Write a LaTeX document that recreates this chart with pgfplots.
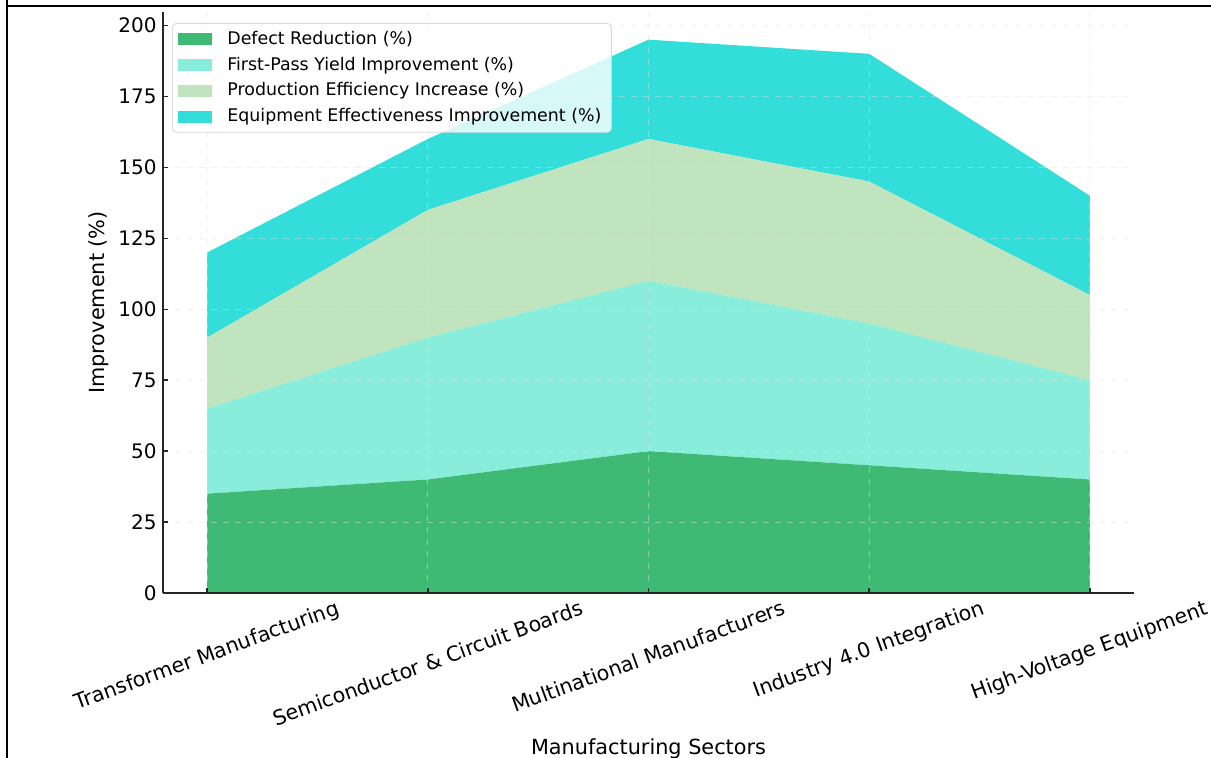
\documentclass[border=0pt]{standalone}
\usepackage{pgfplots}
\pgfplotsset{compat=1.18}
\usepackage{fontspec}
\setmainfont{DejaVu Sans}
\definecolor{cDef}{HTML}{3FBA75}
\definecolor{cFPY}{HTML}{88EDDA}
\definecolor{cProd}{HTML}{BFE4BE}
\definecolor{cEq}{HTML}{33DDD9}
\begin{document}
\begin{tikzpicture}
\useasboundingbox (0pt,0pt) rectangle (605.5pt,379pt);
\draw[line width=1.1pt] (3.5pt,379pt) -- (3.5pt,376pt) -- (605.5pt,376pt);
\draw[line width=1.1pt] (3.5pt,0pt) -- (3.5pt,376pt);
\begin{axis}[
  at={(81.5pt,82.5pt)}, anchor=south west,
  scale only axis, width=485.5pt, height=290.5pt,
  xmin=-0.2, xmax=4.2, ymin=0, ymax=204.75,
  axis x line*=bottom, axis y line*=left,
  axis line style={line width=0.8pt, black!85},
  tick align=inside, major tick length=2.5pt,
  tick style={line width=0.7pt, black!85},
  xtick={0,1,2,3,4},
  xticklabels={\rotatebox{20}{Transformer Manufacturing},\rotatebox{20}{Semiconductor \& Circuit Boards},\rotatebox{20}{Multinational Manufacturers},\rotatebox{20}{Industry 4.0 Integration},\rotatebox{20}{High-Voltage Equipment}},
  xticklabel style={anchor=north, font=\fontsize{10.3}{12}\selectfont, inner sep=1pt, yshift=-2pt},
  ytick={0,25,50,75,100,125,150,175,200},
  yticklabel style={font=\fontsize{10}{12}\selectfont, inner sep=1pt, xshift=-2pt},
  /pgf/number format/assume math mode=true,
  grid=major, grid style={dashed, black!12, line width=0.4pt, opacity=0.45},
  axis on top,
  ylabel={Improvement (\%)},
  ylabel style={font=\fontsize{10.4}{12}\selectfont, at={(axis description cs:-0.066,0.5)}, anchor=center},
  xlabel={Manufacturing Sectors},
  xlabel style={font=\fontsize{10.4}{12}\selectfont, at={(axis description cs:0.5,0)}, yshift=-78pt, anchor=center},
  stack plots=y,
  legend style={at={(axis description cs:0,1)}, anchor=north west, xshift=4.5pt, yshift=-5.5pt,
    font=\fontsize{8.7}{10}\selectfont, row sep=0.8pt, inner xsep=3pt, inner ysep=1.8pt,
    rounded corners=2pt, draw=black!15, fill=white, fill opacity=0.8, text opacity=1},
  legend cell align=left,
  legend image code/.code={\fill[#1, sharp corners, fill opacity=1] (0pt,-3pt) rectangle (17pt,3pt); \path (22.5pt,0pt);},
]
\addplot[fill=cDef, draw=none] coordinates {(0,35) (1,40) (2,50) (3,45) (4,40)} \closedcycle;
\addlegendentry{Defect Reduction (\%)}
\addplot[fill=cFPY, draw=none] coordinates {(0,30) (1,50) (2,60) (3,50) (4,35)} \closedcycle;
\addlegendentry{First-Pass Yield Improvement (\%)}
\addplot[fill=cProd, draw=none] coordinates {(0,25) (1,45) (2,50) (3,50) (4,30)} \closedcycle;
\addlegendentry{Production Efficiency Increase (\%)}
\addplot[fill=cEq, draw=none] coordinates {(0,30) (1,25) (2,35) (3,45) (4,35)} \closedcycle;
\addlegendentry{Equipment Effectiveness Improvement (\%)}
\end{axis}
\end{tikzpicture}
\end{document}
